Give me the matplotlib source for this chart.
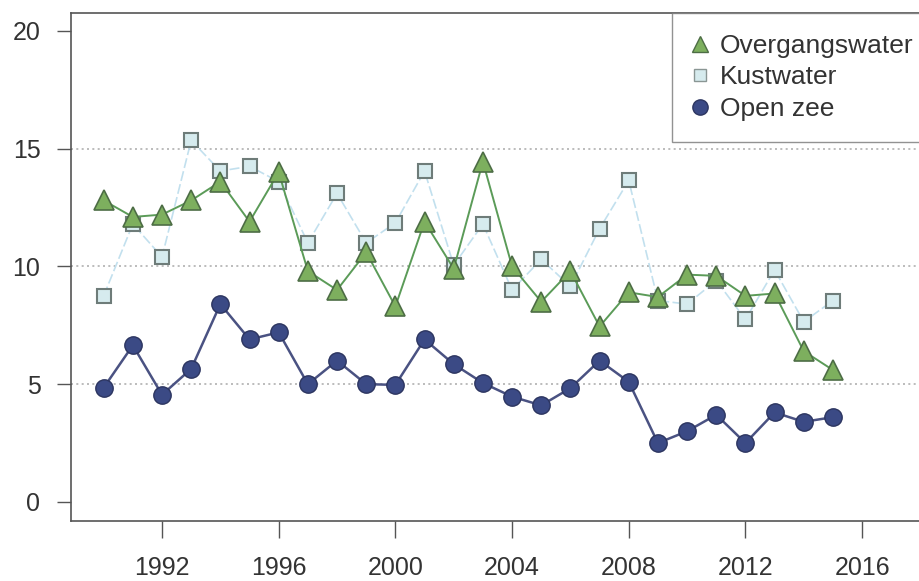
import matplotlib.pyplot as plt
from matplotlib.lines import Line2D

plt.rcParams['font.family'] = ['Liberation Sans', 'DejaVu Sans']

years = list(range(1990, 2016))

# Overgangswater
overgang = [12.8, 12.1, 12.2, 12.8, 13.6, 11.9, 14.0, 9.8, 9.0, 10.6, 8.3, 11.9, 9.9,
            14.45, 10.0, 8.5, 9.8, 7.45, 8.9, 8.7, 9.65, 9.6, 8.75, 8.85, 6.4, 5.6]
# Kustwater
kust = [8.75, 11.8, 10.4, 15.35, 14.05, 14.25, 13.6, 11.0, 13.1, 11.0, 11.85, 14.05, 10.05,
        11.8, 9.0, 10.3, 9.15, 11.6, 13.65, 8.55, 8.4, 9.4, 7.75, 9.85, 7.65, 8.55]
# Open zee
openzee = [4.85, 6.65, 4.55, 5.65, 8.4, 6.9, 7.2, 5.0, 6.0, 5.0, 4.97, 6.9, 5.85,
           5.05, 4.47, 4.1, 4.83, 6.0, 5.1, 2.5, 3.0, 3.7, 2.5, 3.8, 3.4, 3.6]

xticks = [1992, 1996, 2000, 2004, 2008, 2012, 2016]
yticks = [0, 5, 10, 15, 20]

txt = '#333333'

fig = plt.figure(figsize=(9.19, 5.81), dpi=100)
ax = fig.add_axes([71/919, 60/581, 1 - 71/919, 508/581])

for y in [5, 10, 15]:
    ax.axhline(y, color='#b0b0b0', lw=1.2, ls=(0, (1.2, 2)), zorder=0)

ax.plot(years, kust, color='#c2e0ee', lw=1.2, ls=(0, (6, 2)),
        marker='s', ms=10, mfc='#d6ebee', mec='#6e7c79', mew=1.5, zorder=2)
ax.plot(years, overgang, color='#5b9b58', lw=1.4,
        marker='^', ms=14, mfc='#7daf5e', mec='#4d6d45', mew=1.2, zorder=3)
ax.plot(years, openzee, color='#4a5282', lw=1.8,
        marker='o', ms=12.5, mfc='#3b4a85', mec='#2c3560', mew=1.0, zorder=4)

ax.set_xlim(1988.88, 1990 + (919 - 103.7) / 29.17)
ax.set_ylim(-0.81, 20.76)
ax.set_xticks(xticks)
ax.set_yticks(yticks)
ax.tick_params(axis='x', length=12, width=1, color='#555555', pad=13,
               labelsize=18, labelcolor=txt)
ax.tick_params(axis='y', length=10, width=1, color='#555555', pad=12,
               labelsize=18, labelcolor=txt)
for s in ['left', 'bottom', 'top']:
    ax.spines[s].set_color('#555555')
    ax.spines[s].set_linewidth(1.2)
ax.spines['right'].set_visible(False)

handles = [
    Line2D([], [], ls='none', marker='^', ms=11, mfc='#7daf5e', mec='#4d6d45'),
    Line2D([], [], ls='none', marker='s', ms=8, mfc='#d6ebee', mec='#8a9694'),
    Line2D([], [], ls='none', marker='o', ms=11, mfc='#3b4a85', mec='#2c3560'),
]
leg = ax.legend(handles, ['Overgangswater', 'Kustwater', 'Open zee'],
                loc='upper left', bbox_to_anchor=((672 - 71) / 848, 1.0),
                fontsize=19, frameon=True, fancybox=False, borderpad=0.8,
                handletextpad=0.5, labelspacing=0.28, handlelength=0.5,
                borderaxespad=0)
leg.get_frame().set_edgecolor('#777777')
leg.get_frame().set_linewidth(1.0)
for t in leg.get_texts():
    t.set_color(txt)

fig.savefig('out.png', dpi=100)
